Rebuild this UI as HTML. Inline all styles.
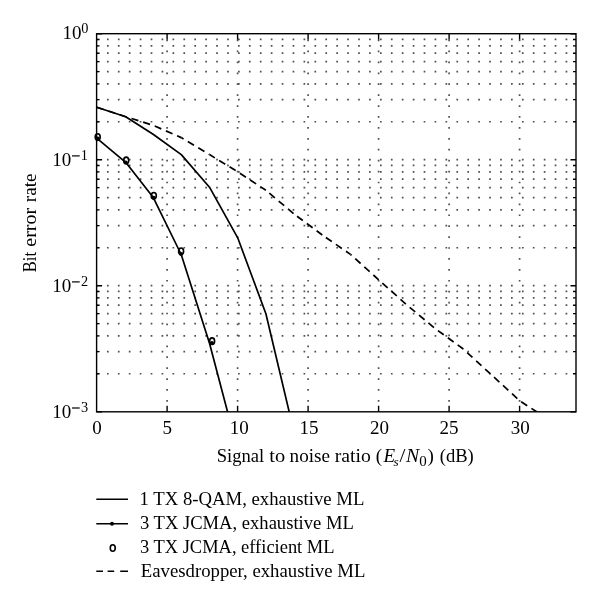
<!DOCTYPE html><html><head><meta charset="utf-8"><style>html,body{margin:0;padding:0;background:#fff;width:600px;height:605px;overflow:hidden}svg{display:block;will-change:transform}text{font-family:"Liberation Serif",serif;fill:#000}</style></head><body><svg width="600" height="605" viewBox="0 0 600 605"><defs><clipPath id="c"><rect x="96.6" y="33.7" width="479.4" height="378.1"/></clipPath></defs><path d="M96.90 373.77H576.0M96.90 351.58H576.0M96.90 335.84H576.0M96.90 323.63H576.0M96.90 313.65H576.0M96.90 305.22H576.0M96.90 297.91H576.0M96.90 291.47H576.0M96.90 285.70H576.0M96.90 247.77H576.0M96.90 225.58H576.0M96.90 209.84H576.0M96.90 197.63H576.0M96.90 187.65H576.0M96.90 179.22H576.0M96.90 171.91H576.0M96.90 165.47H576.0M96.90 159.70H576.0M96.90 121.77H576.0M96.90 99.58H576.0M96.90 83.84H576.0M96.90 71.63H576.0M96.90 61.65H576.0M96.90 53.22H576.0M96.90 45.91H576.0M96.90 39.47H576.0" stroke="#505050" stroke-width="1.70" stroke-dasharray="1.70 9.22" stroke-dashoffset="0.85" fill="none"/><path d="M167.10 411.8V33.7M237.60 411.8V33.7M308.10 411.8V33.7M378.60 411.8V33.7M449.10 411.8V33.7M519.60 411.8V33.7" stroke="#505050" stroke-width="1.70" stroke-dasharray="1.70 9.22" stroke-dashoffset="0.85" fill="none"/><path d="M167.10 411.8v-6M167.10 33.7v6M237.60 411.8v-6M237.60 33.7v6M308.10 411.8v-6M308.10 33.7v6M378.60 411.8v-6M378.60 33.7v6M449.10 411.8v-6M449.10 33.7v6M519.60 411.8v-6M519.60 33.7v6M96.6 411.70h5.5M576.0 411.70h-5.5M96.6 373.77h3.0M576.0 373.77h-3.0M96.6 351.58h3.0M576.0 351.58h-3.0M96.6 335.84h3.0M576.0 335.84h-3.0M96.6 323.63h3.0M576.0 323.63h-3.0M96.6 313.65h3.0M576.0 313.65h-3.0M96.6 305.22h3.0M576.0 305.22h-3.0M96.6 297.91h3.0M576.0 297.91h-3.0M96.6 291.47h3.0M576.0 291.47h-3.0M96.6 285.70h5.5M576.0 285.70h-5.5M96.6 247.77h3.0M576.0 247.77h-3.0M96.6 225.58h3.0M576.0 225.58h-3.0M96.6 209.84h3.0M576.0 209.84h-3.0M96.6 197.63h3.0M576.0 197.63h-3.0M96.6 187.65h3.0M576.0 187.65h-3.0M96.6 179.22h3.0M576.0 179.22h-3.0M96.6 171.91h3.0M576.0 171.91h-3.0M96.6 165.47h3.0M576.0 165.47h-3.0M96.6 159.70h5.5M576.0 159.70h-5.5M96.6 121.77h3.0M576.0 121.77h-3.0M96.6 99.58h3.0M576.0 99.58h-3.0M96.6 83.84h3.0M576.0 83.84h-3.0M96.6 71.63h3.0M576.0 71.63h-3.0M96.6 61.65h3.0M576.0 61.65h-3.0M96.6 53.22h3.0M576.0 53.22h-3.0M96.6 45.91h3.0M576.0 45.91h-3.0M96.6 39.47h3.0M576.0 39.47h-3.0M96.6 33.70h5.5M576.0 33.70h-5.5" stroke="#000" stroke-width="1.4" fill="none"/><rect x="96.60" y="33.70" width="479.40" height="378.10" fill="none" stroke="#000" stroke-width="1.40"/><g clip-path="url(#c)" fill="none" stroke="#000" stroke-width="1.70" stroke-linejoin="round"><path d="M96.7 107.2L125.7 116.8L153.1 134.2L181.3 154.6L209.5 187.2L237.7 237.8L265.9 313.8L294.1 432.5"/><path d="M97.0 138.3L125.7 162.3L153.3 197.6L181.2 254.5L209.5 343.2L237.7 450.4"/><g stroke-dasharray="7.2 5.0"><path d="M96.70 107.20L125.70 116.70" stroke-dashoffset="0.00"/><path d="M125.70 116.70L153.10 125.30" stroke-dashoffset="30.52"/><path d="M153.10 125.30L181.30 137.60" stroke-dashoffset="59.23"/><path d="M181.30 137.60L209.50 154.60" stroke-dashoffset="90.00"/><path d="M209.50 154.60L237.70 171.80" stroke-dashoffset="122.93"/><path d="M237.70 171.80L265.90 190.30" stroke-dashoffset="155.96"/><path d="M265.90 190.30L294.10 214.00" stroke-dashoffset="190.69"/><path d="M294.10 214.00L322.30 235.00" stroke-dashoffset="228.12"/><path d="M322.30 235.00L350.50 254.40" stroke-dashoffset="264.08"/><path d="M350.50 254.40L378.70 279.80" stroke-dashoffset="298.61"/><path d="M378.70 279.80L406.90 305.00" stroke-dashoffset="336.76"/><path d="M406.90 305.00L435.10 328.50" stroke-dashoffset="374.58"/><path d="M435.10 328.50L463.30 349.00" stroke-dashoffset="411.29"/><path d="M463.30 349.00L491.50 374.90" stroke-dashoffset="446.16"/><path d="M491.50 374.90L519.70 400.80" stroke-dashoffset="484.54"/><path d="M519.70 400.80L547.90 419.10" stroke-dashoffset="522.83"/></g></g><circle cx="97.8" cy="138.5" r="2.00" fill="#000"/><circle cx="125.7" cy="162.4" r="2.00" fill="#000"/><circle cx="153.6" cy="197.7" r="2.00" fill="#000"/><circle cx="181.1" cy="254.0" r="2.00" fill="#000"/><circle cx="211.9" cy="342.9" r="2.00" fill="#000"/><ellipse cx="97.7" cy="137.1" rx="2.50" ry="3.30" fill="none" stroke="#000" stroke-width="1.60"/><ellipse cx="126.2" cy="160.4" rx="2.50" ry="3.30" fill="none" stroke="#000" stroke-width="1.60"/><ellipse cx="153.8" cy="195.8" rx="2.50" ry="3.30" fill="none" stroke="#000" stroke-width="1.60"/><ellipse cx="181.1" cy="251.3" rx="2.50" ry="3.30" fill="none" stroke="#000" stroke-width="1.60"/><ellipse cx="212.1" cy="341.2" rx="2.50" ry="3.30" fill="none" stroke="#000" stroke-width="1.60"/><text x="97.10" y="433.6" font-size="19.0" text-anchor="middle">0</text><text x="167.30" y="433.6" font-size="19.0" text-anchor="middle">5</text><text x="239.20" y="433.6" font-size="19.0" text-anchor="middle">10</text><text x="309.10" y="433.6" font-size="19.0" text-anchor="middle">15</text><text x="379.60" y="433.6" font-size="19.0" text-anchor="middle">20</text><text x="449.00" y="433.6" font-size="19.0" text-anchor="middle">25</text><text x="520.30" y="433.6" font-size="19.0" text-anchor="middle">30</text><text x="81.40" y="39.20" font-size="19.0" text-anchor="end">10</text><text x="81.30" y="33.30" font-size="14.3">0</text><text x="71.20" y="166.20" font-size="19.0" text-anchor="end">10</text><rect x="72" y="155.30" width="7.7" height="1.20" fill="#000"/><text x="80.80" y="160.20" font-size="14.3">1</text><text x="71.20" y="292.10" font-size="19.0" text-anchor="end">10</text><rect x="72" y="281.30" width="7.7" height="1.20" fill="#000"/><text x="81.10" y="286.00" font-size="14.3">2</text><text x="71.20" y="418.10" font-size="19.0" text-anchor="end">10</text><rect x="72" y="407.40" width="7.7" height="1.20" fill="#000"/><text x="81.10" y="412.30" font-size="14.3">3</text><text transform="translate(216.78 462.40) scale(0.9787 1)" font-size="19.00">Signal</text><text transform="translate(269.33 462.40) scale(1.0764 1)" font-size="19.00">to</text><text transform="translate(289.60 462.40) scale(1.0077 1)" font-size="19.00">noise</text><text transform="translate(334.78 462.40) scale(1.0388 1)" font-size="19.00">ratio</text><text transform="translate(375.80 462.40) scale(1.0000 1)" font-size="19.00">(</text><text transform="translate(383.40 462.40) scale(1.0000 1)" font-size="19.00" font-style="italic">E</text><text transform="translate(393.50 465.60) scale(1.0000 1)" font-size="13.30" font-style="italic">s</text><text transform="translate(399.46 462.40) scale(1.1200 1)" font-size="19.00">/</text><text transform="translate(405.90 462.40) scale(1.0444 1)" font-size="19.00" font-style="italic">N</text><text transform="translate(419.17 465.70) scale(1.0667 1)" font-size="14.06">0</text><text transform="translate(427.40 462.40) scale(1.0000 1)" font-size="19.00">)</text><text transform="translate(439.77 462.40) scale(0.9774 1)" font-size="19.00">(dB)</text><text transform="translate(35.55 272.15) rotate(-90) scale(0.8909 1)" font-size="18.50">Bit</text><text transform="translate(35.55 246.76) rotate(-90) scale(1.0843 1)" font-size="18.50">error</text><text transform="translate(35.55 202.26) rotate(-90) scale(1.0411 1)" font-size="18.50">rate</text><path d="M96.3 499.2H128M96.3 523.8H128" stroke="#000" stroke-width="1.6"/><circle cx="112" cy="523.8" r="2.00"/><ellipse cx="112.75" cy="548" rx="2.50" ry="3.30" fill="none" stroke="#000" stroke-width="1.60"/><path d="M96.3 571.3H103M107.6 571.3H114.2M120.2 571.3H128" stroke="#000" stroke-width="1.6"/><g transform="translate(-3.725 0.000) scale(1.0126 1)"><text x="141.5" y="505.0" font-size="18.5">1 TX 8-QAM, exhaustive ML</text></g><g transform="translate(-2.183 -0.600) scale(1.0047 1)"><text x="141.5" y="529.7" font-size="18.5">3 TX JCMA, exhaustive ML</text></g><g transform="translate(-1.134 -0.500) scale(0.9974 1)"><text x="141.5" y="553.3" font-size="18.5">3 TX JCMA, efficient ML</text></g><g transform="translate(-2.554 -0.300) scale(1.0134 1)"><text x="141.5" y="577.5" font-size="18.5">Eavesdropper, exhaustive ML</text></g></svg></body></html>
